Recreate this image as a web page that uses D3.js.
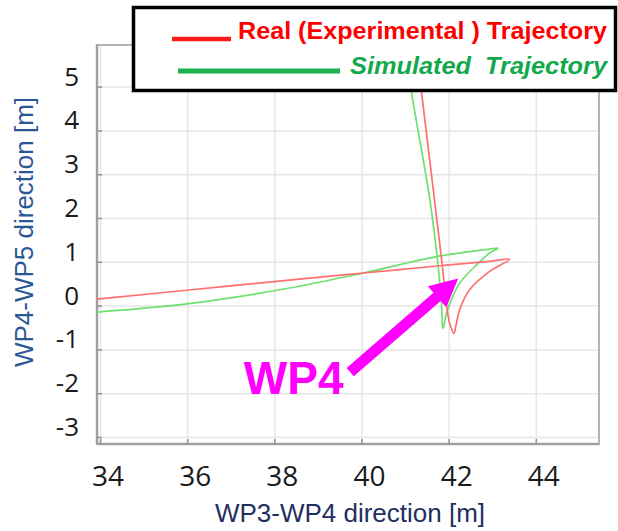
<!DOCTYPE html>
<html>
<head>
<meta charset="utf-8">
<script src="https://cdn.jsdelivr.net/npm/d3@7/dist/d3.min.js"></script>
<style>
  html, body { margin: 0; padding: 0; background: #ffffff; }
  svg { display: block; }
</style>
</head>
<body>
<svg id="chart" width="618" height="531"></svg>
<script>
// ---------- data ----------
const xTicks = [34, 36, 38, 40, 42, 44];
const yTicks = [-3, -2, -1, 0, 1, 2, 3, 4, 5];

// Real (experimental) trajectory
const realX = [41.24, 41.38, 41.83, 41.99, 42.04, 42.12, 42.16, 42.25, 42.48, 42.94, 43.40, 42.94, 41.80, 40.11, 38.51, 35.99, 33.93, 33.50];
const realY = [6.00, 4.85, 1.12, -0.25, -0.46, -0.635, -0.49, -0.10, 0.36, 0.78, 1.06, 1.01, 0.91, 0.75, 0.60, 0.35, 0.15, 0.11];

// Simulated trajectory
const simX = [40.99, 41.15, 41.57, 41.76, 41.83, 41.87, 41.95, 42.06, 42.25, 42.64, 42.94, 43.13, 42.94, 41.72, 40.11, 38.51, 35.99, 33.93, 33.50];
const simY = [6.00, 4.85, 2.41, 0.89, 0.13, -0.52, -0.17, 0.13, 0.51, 0.93, 1.20, 1.31, 1.29, 1.12, 0.76, 0.43, 0.04, -0.15, -0.19];

const legendLabels = ["Real (Experimental ) Trajectory", "Simulated  Trajectory"];
const xTitle = "WP3-WP4 direction [m]";
const yTitle = "WP4-WP5 direction [m]";
const annotationText = "WP4";
// annotation anchor points in data units
const arrowTail = [39.74, -1.52];
const arrowTip = [42.22, 0.62];
const annotationPos = [37.30, -2.02];

// ---------- layout ----------
(function () {
const svg = d3.select("#chart");
const pLeft = 97, pRight = 599, pTop = 45, pBottom = 444;
const x = d3.scaleLinear().domain([33.93, 45.45]).range([pLeft, pRight]);
const y = d3.scaleLinear().domain([-3.16, 5.95]).range([pBottom, pTop]);

// gridlines
svg.append("g")
  .attr("transform", `translate(0,${pBottom})`)
  .call(d3.axisBottom(x).tickValues(xTicks).tickSize(-(pBottom - pTop)).tickFormat(""))
  .call(g => g.select(".domain").remove())
  .call(g => g.selectAll("line").attr("stroke", "#e6e6e6").attr("stroke-width", 1.5));
svg.append("g")
  .attr("transform", `translate(${pLeft},0)`)
  .call(d3.axisLeft(y).tickValues(yTicks).tickSize(-(pRight - pLeft)).tickFormat(""))
  .call(g => g.select(".domain").remove())
  .call(g => g.selectAll("line").attr("stroke", "#e6e6e6").attr("stroke-width", 1.5));

// frame
svg.append("rect")
  .attr("x", pLeft).attr("y", pTop).attr("width", pRight - pLeft).attr("height", pBottom - pTop)
  .attr("fill", "none").attr("stroke", "#b4b4b4").attr("stroke-width", 2);
svg.append("line").attr("x1", pLeft).attr("x2", pLeft).attr("y1", pTop).attr("y2", pBottom)
  .attr("stroke", "#a0a0a0").attr("stroke-width", 2.5);
svg.append("line").attr("x1", pLeft).attr("x2", pRight).attr("y1", pBottom).attr("y2", pBottom)
  .attr("stroke", "#a0a0a0").attr("stroke-width", 2.5);

// inward ticks
svg.append("g")
  .attr("transform", `translate(0,${pBottom})`)
  .call(d3.axisBottom(x).tickValues(xTicks).tickSize(-5).tickFormat(""))
  .call(g => g.select(".domain").remove())
  .call(g => g.selectAll("line").attr("stroke", "#909090").attr("stroke-width", 1.5));
svg.append("g")
  .attr("transform", `translate(${pLeft},0)`)
  .call(d3.axisLeft(y).tickValues(yTicks).tickSize(-5).tickFormat(""))
  .call(g => g.select(".domain").remove())
  .call(g => g.selectAll("line").attr("stroke", "#909090").attr("stroke-width", 1.5));

// clip
svg.append("clipPath").attr("id", "plotClip")
  .append("rect").attr("x", pLeft).attr("y", pTop).attr("width", pRight - pLeft).attr("height", pBottom - pTop);

const line = d3.line().x(d => x(d[0])).y(d => y(d[1])).curve(d3.curveCatmullRom.alpha(0.5));
const realPts = realX.map((v, i) => [v, realY[i]]);
const simPts = simX.map((v, i) => [v, simY[i]]);

const plot = svg.append("g").attr("clip-path", "url(#plotClip)");
plot.append("path").attr("d", line(simPts))
  .attr("fill", "none").attr("stroke", "#6fe06f").attr("stroke-width", 1.7);
plot.append("path").attr("d", line(realPts))
  .attr("fill", "none").attr("stroke", "#ff6f6f").attr("stroke-width", 1.7);

// tick labels
svg.append("g").selectAll("text").data(xTicks).join("text")
  .attr("x", d => x(d) + 8).attr("y", 486)
  .attr("text-anchor", "middle")
  .attr("font-family", "'Open Sans', sans-serif").attr("font-size", 28)
  .attr("fill", "#1a1a1a")
  .text(d => d);
svg.append("g").selectAll("text").data(yTicks).join("text")
  .attr("x", 79).attr("y", d => y(d) - 1)
  .attr("text-anchor", "end")
  .attr("font-family", "'Open Sans', sans-serif").attr("font-size", 26)
  .attr("fill", "#1a1a1a")
  .text(d => d < 0 ? "-" + Math.abs(d) : d);

// axis titles
svg.append("text")
  .attr("x", 350).attr("y", 522)
  .attr("text-anchor", "middle")
  .attr("font-family", "'Liberation Sans', Arial, sans-serif").attr("font-size", 26)
  .attr("fill", "#1f2f5f")
  .text(xTitle);
svg.append("text")
  .attr("transform", "translate(33,232) rotate(-90)")
  .attr("text-anchor", "middle")
  .attr("font-family", "'Liberation Sans', Arial, sans-serif").attr("font-size", 26)
  .attr("fill", "#2b5797")
  .text(yTitle);

// annotation arrow
const tx = x(arrowTail[0]), ty = y(arrowTail[1]);
const hx = x(arrowTip[0]), hy = y(arrowTip[1]);
const len = Math.hypot(hx - tx, hy - ty);
const ux = (hx - tx) / len, uy = (hy - ty) / len;
const px = -uy, py = ux;
const headLen = 28, headHalf = 14, shaftHalf = 5.5;
const bx = hx - ux * headLen, by = hy - uy * headLen;
const arrowPoly = [
  [tx + px * shaftHalf, ty + py * shaftHalf],
  [bx + px * shaftHalf, by + py * shaftHalf],
  [bx + px * headHalf, by + py * headHalf],
  [hx, hy],
  [bx - px * headHalf, by - py * headHalf],
  [bx - px * shaftHalf, by - py * shaftHalf],
  [tx - px * shaftHalf, ty - py * shaftHalf]
];
svg.append("path")
  .attr("d", "M" + arrowPoly.map(p => p.join(",")).join("L") + "Z")
  .attr("fill", "#ff00ff");
svg.append("text")
  .attr("x", x(annotationPos[0])).attr("y", y(annotationPos[1]))
  .attr("font-family", "'Liberation Sans', Arial, sans-serif").attr("font-weight", "bold")
  .attr("font-size", 46).attr("fill", "#ff00ff")
  .text(annotationText);

// legend
const lg = svg.append("g");
lg.append("rect")
  .attr("x", 133.5).attr("y", 7.5).attr("width", 482).attr("height", 83)
  .attr("fill", "#ffffff").attr("stroke", "#000").attr("stroke-width", 3.5);
lg.append("line").attr("x1", 172).attr("x2", 231).attr("y1", 39).attr("y2", 39)
  .attr("stroke", "#ff1a1a").attr("stroke-width", 4.5);
lg.append("line").attr("x1", 178).attr("x2", 340).attr("y1", 71).attr("y2", 71)
  .attr("stroke", "#1fb050").attr("stroke-width", 5);
lg.append("text")
  .attr("x", 238).attr("y", 39)
  .attr("font-family", "'Liberation Sans', Arial, sans-serif").attr("font-weight", "bold")
  .attr("font-size", 24).attr("fill", "#ff0000")
  .attr("textLength", 369).attr("lengthAdjust", "spacingAndGlyphs")
  .style("white-space", "pre")
  .text(legendLabels[0]);
lg.append("text")
  .attr("x", 350).attr("y", 74)
  .attr("font-family", "'Liberation Sans', Arial, sans-serif").attr("font-weight", "bold")
  .attr("font-style", "italic")
  .attr("font-size", 24).attr("fill", "#13a84b")
  .attr("textLength", 257).attr("lengthAdjust", "spacingAndGlyphs")
  .style("white-space", "pre")
  .text(legendLabels[1]);
})();
</script>
</body>
</html>
